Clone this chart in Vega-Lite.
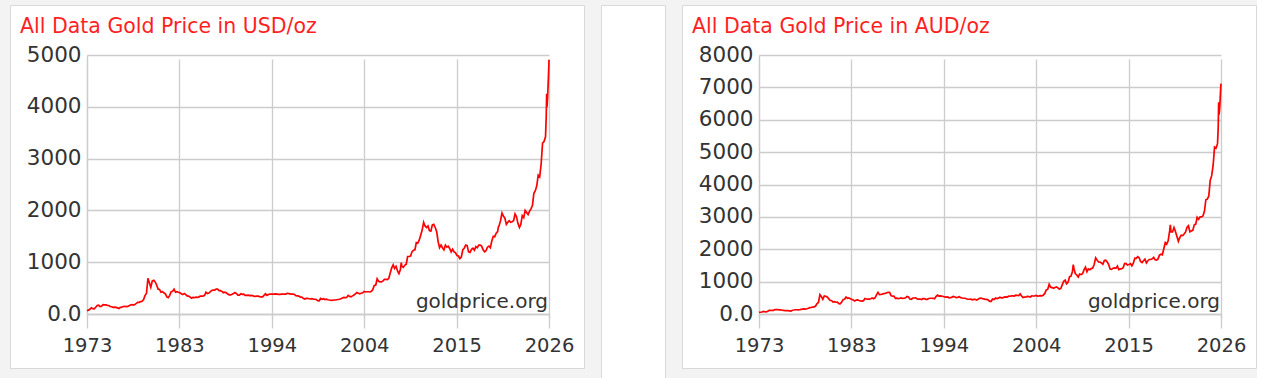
{
  "$schema": "https://vega.github.io/schema/vega-lite/v6.json",
  "background": "#f3f3f3",
  "padding": {"left": 9, "top": 4, "right": 0, "bottom": 0},
  "spacing": 15,
  "config": {
    "font": "DejaVu Sans",
    "view": {"fill": "white", "stroke": "#d9d9d9", "strokeWidth": 1},
    "axis": {
      "gridColor": "#cccccc", "gridWidth": 1.3, "domainColor": "#cccccc", "domainWidth": 1.3,
      "tickColor": "#cccccc", "tickWidth": 1.3, "labelFont": "DejaVu Sans", "labelFontSize": 20,
      "labelColor": "#333333", "title": null
    }
  },
  "datasets": {
    "gold": [
      {"year":1973,"usd":65,"aud":48},{"year":1973.17,"usd":75,"aud":54},{"year":1973.33,"usd":90,"aud":62},{"year":1973.5,"usd":120,"aud":81},{"year":1973.67,"usd":103,"aud":70},{"year":1973.83,"usd":98,"aud":66},
      {"year":1974,"usd":130,"aud":87},{"year":1974.17,"usd":165,"aud":111},{"year":1974.33,"usd":170,"aud":114},{"year":1974.5,"usd":145,"aud":109},{"year":1974.67,"usd":150,"aud":113},{"year":1974.83,"usd":180,"aud":137},
      {"year":1975,"usd":178,"aud":133},{"year":1975.17,"usd":178,"aud":134},{"year":1975.33,"usd":168,"aud":128},{"year":1975.5,"usd":165,"aud":129},{"year":1975.67,"usd":145,"aud":115},{"year":1975.83,"usd":140,"aud":111},
      {"year":1976,"usd":130,"aud":103},{"year":1976.17,"usd":132,"aud":106},{"year":1976.33,"usd":127,"aud":102},{"year":1976.5,"usd":118,"aud":97},{"year":1976.67,"usd":105,"aud":88},{"year":1976.83,"usd":128,"aud":117},
      {"year":1977,"usd":134,"aud":123},{"year":1977.17,"usd":145,"aud":131},{"year":1977.33,"usd":147,"aud":132},{"year":1977.5,"usd":142,"aud":127},{"year":1977.67,"usd":148,"aud":132},{"year":1977.83,"usd":160,"aud":142},
      {"year":1978,"usd":172,"aud":151},{"year":1978.17,"usd":182,"aud":158},{"year":1978.33,"usd":172,"aud":150},{"year":1978.5,"usd":185,"aud":161},{"year":1978.67,"usd":205,"aud":177},{"year":1978.83,"usd":225,"aud":196},
      {"year":1979,"usd":225,"aud":201},{"year":1979.17,"usd":240,"aud":214},{"year":1979.33,"usd":245,"aud":219},{"year":1979.5,"usd":278,"aud":246},{"year":1979.67,"usd":360,"aud":321},{"year":1979.83,"usd":395,"aud":356},
      {"year":1980,"usd":690,"aud":600},{"year":1980.17,"usd":600,"aud":536},{"year":1980.33,"usd":515,"aud":456},{"year":1980.5,"usd":640,"aud":557},{"year":1980.67,"usd":650,"aud":546},{"year":1980.83,"usd":620,"aud":525},
      {"year":1981,"usd":560,"aud":475},{"year":1981.17,"usd":480,"aud":417},{"year":1981.33,"usd":475,"aud":417},{"year":1981.5,"usd":420,"aud":368},{"year":1981.67,"usd":430,"aud":381},{"year":1981.83,"usd":410,"aud":363},
      {"year":1982,"usd":390,"aud":364},{"year":1982.17,"usd":330,"aud":320},{"year":1982.33,"usd":315,"aud":312},{"year":1982.5,"usd":360,"aud":367},{"year":1982.67,"usd":430,"aud":448},{"year":1982.83,"usd":440,"aud":454},
      {"year":1983,"usd":480,"aud":522},{"year":1983.17,"usd":420,"aud":483},{"year":1983.33,"usd":430,"aud":494},{"year":1983.5,"usd":420,"aud":472},{"year":1983.67,"usd":410,"aud":451},{"year":1983.83,"usd":390,"aud":429},
      {"year":1984,"usd":375,"aud":403},{"year":1984.17,"usd":395,"aud":429},{"year":1984.33,"usd":380,"aud":437},{"year":1984.5,"usd":350,"aud":417},{"year":1984.67,"usd":345,"aud":401},{"year":1984.83,"usd":330,"aud":398},
      {"year":1985,"usd":305,"aud":412},{"year":1985.17,"usd":320,"aud":478},{"year":1985.33,"usd":315,"aud":463},{"year":1985.5,"usd":325,"aud":458},{"year":1985.67,"usd":320,"aud":457},{"year":1985.83,"usd":325,"aud":471},
      {"year":1986,"usd":345,"aud":493},{"year":1986.17,"usd":345,"aud":473},{"year":1986.33,"usd":345,"aud":500},{"year":1986.5,"usd":360,"aud":590},{"year":1986.67,"usd":420,"aud":667},{"year":1986.83,"usd":395,"aud":598},
      {"year":1987,"usd":405,"aud":604},{"year":1987.17,"usd":430,"aud":614},{"year":1987.33,"usd":455,"aud":632},{"year":1987.5,"usd":460,"aud":639},{"year":1987.67,"usd":460,"aud":657},{"year":1987.83,"usd":480,"aud":667},
      {"year":1988,"usd":480,"aud":667},{"year":1988.17,"usd":450,"aud":570},{"year":1988.33,"usd":450,"aud":549},{"year":1988.5,"usd":435,"aud":551},{"year":1988.67,"usd":410,"aud":482},{"year":1988.83,"usd":420,"aud":488},
      {"year":1989,"usd":410,"aud":477},{"year":1989.17,"usd":385,"aud":487},{"year":1989.33,"usd":370,"aud":500},{"year":1989.5,"usd":370,"aud":481},{"year":1989.67,"usd":380,"aud":487},{"year":1989.83,"usd":395,"aud":500},
      {"year":1990,"usd":415,"aud":539},{"year":1990.17,"usd":395,"aud":527},{"year":1990.33,"usd":365,"aud":462},{"year":1990.5,"usd":365,"aud":456},{"year":1990.67,"usd":390,"aud":494},{"year":1990.83,"usd":380,"aud":494},
      {"year":1991,"usd":385,"aud":500},{"year":1991.17,"usd":360,"aud":468},{"year":1991.33,"usd":360,"aud":462},{"year":1991.5,"usd":365,"aud":462},{"year":1991.67,"usd":355,"aud":449},{"year":1991.83,"usd":360,"aud":474},
      {"year":1992,"usd":355,"aud":473},{"year":1992.17,"usd":345,"aud":454},{"year":1992.33,"usd":340,"aud":453},{"year":1992.5,"usd":345,"aud":479},{"year":1992.67,"usd":345,"aud":486},{"year":1992.83,"usd":335,"aud":486},
      {"year":1993,"usd":330,"aud":485},{"year":1993.17,"usd":330,"aud":471},{"year":1993.33,"usd":360,"aud":537},{"year":1993.5,"usd":390,"aud":582},{"year":1993.67,"usd":360,"aud":554},{"year":1993.83,"usd":375,"aud":560},
      {"year":1994,"usd":385,"aud":550},{"year":1994.17,"usd":385,"aud":542},{"year":1994.33,"usd":385,"aud":527},{"year":1994.5,"usd":385,"aud":520},{"year":1994.67,"usd":390,"aud":527},{"year":1994.83,"usd":385,"aud":500},
      {"year":1995,"usd":380,"aud":507},{"year":1995.17,"usd":380,"aud":521},{"year":1995.33,"usd":385,"aud":542},{"year":1995.5,"usd":385,"aud":527},{"year":1995.67,"usd":385,"aud":507},{"year":1995.83,"usd":385,"aud":513},
      {"year":1996,"usd":400,"aud":533},{"year":1996.17,"usd":395,"aud":506},{"year":1996.33,"usd":390,"aud":494},{"year":1996.5,"usd":385,"aud":487},{"year":1996.67,"usd":385,"aud":487},{"year":1996.83,"usd":375,"aud":469},
      {"year":1997,"usd":355,"aud":455},{"year":1997.17,"usd":350,"aud":455},{"year":1997.33,"usd":345,"aud":460},{"year":1997.5,"usd":325,"aud":439},{"year":1997.67,"usd":325,"aud":451},{"year":1997.83,"usd":305,"aud":455},
      {"year":1998,"usd":290,"aud":433},{"year":1998.17,"usd":300,"aud":455},{"year":1998.33,"usd":300,"aud":484},{"year":1998.5,"usd":295,"aud":492},{"year":1998.67,"usd":290,"aud":475},{"year":1998.83,"usd":295,"aud":468},
      {"year":1999,"usd":287,"aud":448},{"year":1999.17,"usd":285,"aud":452},{"year":1999.33,"usd":280,"aud":431},{"year":1999.5,"usd":258,"aud":391},{"year":1999.67,"usd":255,"aud":392},{"year":1999.83,"usd":300,"aud":462},
      {"year":2000,"usd":285,"aud":445},{"year":2000.17,"usd":295,"aud":492},{"year":2000.33,"usd":280,"aud":475},{"year":2000.5,"usd":285,"aud":491},{"year":2000.67,"usd":275,"aud":519},{"year":2000.83,"usd":270,"aud":500},
      {"year":2001,"usd":265,"aud":500},{"year":2001.17,"usd":262,"aud":524},{"year":2001.33,"usd":270,"aud":529},{"year":2001.5,"usd":270,"aud":519},{"year":2001.67,"usd":275,"aud":550},{"year":2001.83,"usd":280,"aud":549},
      {"year":2002,"usd":285,"aud":559},{"year":2002.17,"usd":295,"aud":557},{"year":2002.33,"usd":310,"aud":554},{"year":2002.5,"usd":320,"aud":582},{"year":2002.67,"usd":315,"aud":573},{"year":2002.83,"usd":320,"aud":571},
      {"year":2003,"usd":360,"aud":621},{"year":2003.17,"usd":340,"aud":557},{"year":2003.33,"usd":330,"aud":508},{"year":2003.5,"usd":350,"aud":522},{"year":2003.67,"usd":365,"aud":529},{"year":2003.83,"usd":390,"aud":542},
      {"year":2004,"usd":415,"aud":539},{"year":2004.17,"usd":400,"aud":526},{"year":2004.33,"usd":390,"aud":557},{"year":2004.5,"usd":400,"aud":556},{"year":2004.67,"usd":410,"aud":562},{"year":2004.83,"usd":435,"aud":572},
      {"year":2005,"usd":425,"aud":552},{"year":2005.17,"usd":430,"aud":558},{"year":2005.33,"usd":430,"aud":566},{"year":2005.5,"usd":425,"aud":559},{"year":2005.67,"usd":440,"aud":587},{"year":2005.83,"usd":470,"aud":635},
      {"year":2006,"usd":550,"aud":743},{"year":2006.17,"usd":560,"aud":767},{"year":2006.33,"usd":680,"aud":919},{"year":2006.5,"usd":630,"aud":829},{"year":2006.67,"usd":620,"aud":816},{"year":2006.83,"usd":620,"aud":795},
      {"year":2007,"usd":640,"aud":821},{"year":2007.17,"usd":670,"aud":838},{"year":2007.33,"usd":670,"aud":807},{"year":2007.5,"usd":665,"aud":773},{"year":2007.67,"usd":690,"aud":784},{"year":2007.83,"usd":790,"aud":898},
      {"year":2008,"usd":890,"aud":1011},{"year":2008.17,"usd":950,"aud":1044},{"year":2008.33,"usd":880,"aud":936},{"year":2008.5,"usd":920,"aud":979},{"year":2008.67,"usd":830,"aud":1153},{"year":2008.83,"usd":780,"aud":1164},
      {"year":2009,"usd":860,"aud":1303},{"year":2009.1,"usd":990,"aud":1523},{"year":2009.17,"usd":920,"aud":1415},{"year":2009.33,"usd":900,"aud":1250},{"year":2009.5,"usd":940,"aud":1205},{"year":2009.67,"usd":960,"aud":1143},{"year":2009.83,"usd":1110,"aud":1233},
      {"year":2010,"usd":1110,"aud":1220},{"year":2010.17,"usd":1120,"aud":1244},{"year":2010.33,"usd":1200,"aud":1364},{"year":2010.5,"usd":1230,"aud":1447},{"year":2010.67,"usd":1240,"aud":1305},{"year":2010.83,"usd":1380,"aud":1394},
      {"year":2011,"usd":1370,"aud":1370},{"year":2011.17,"usd":1430,"aud":1402},{"year":2011.33,"usd":1520,"aud":1421},{"year":2011.5,"usd":1620,"aud":1528},{"year":2011.67,"usd":1770,"aud":1735},{"year":2011.83,"usd":1700,"aud":1667},
      {"year":2012,"usd":1670,"aud":1606},{"year":2012.17,"usd":1700,"aud":1604},{"year":2012.33,"usd":1610,"aud":1578},{"year":2012.5,"usd":1600,"aud":1538},{"year":2012.67,"usd":1720,"aud":1654},{"year":2012.83,"usd":1730,"aud":1663},
      {"year":2013,"usd":1670,"aud":1606},{"year":2013.17,"usd":1590,"aud":1529},{"year":2013.33,"usd":1400,"aud":1386},{"year":2013.5,"usd":1280,"aud":1376},{"year":2013.67,"usd":1330,"aud":1415},{"year":2013.83,"usd":1280,"aud":1422},
      {"year":2014,"usd":1240,"aud":1409},{"year":2014.17,"usd":1330,"aud":1478},{"year":2014.33,"usd":1290,"aud":1372},{"year":2014.5,"usd":1310,"aud":1394},{"year":2014.67,"usd":1260,"aud":1400},{"year":2014.83,"usd":1200,"aud":1429},
      {"year":2015,"usd":1250,"aud":1563},{"year":2015.17,"usd":1200,"aud":1558},{"year":2015.33,"usd":1180,"aud":1513},{"year":2015.5,"usd":1130,"aud":1527},{"year":2015.67,"usd":1120,"aud":1556},{"year":2015.83,"usd":1070,"aud":1486},
      {"year":2016,"usd":1100,"aud":1571},{"year":2016.17,"usd":1240,"aud":1722},{"year":2016.33,"usd":1270,"aud":1716},{"year":2016.5,"usd":1330,"aud":1773},{"year":2016.67,"usd":1320,"aud":1737},{"year":2016.83,"usd":1200,"aud":1622},
      {"year":2017,"usd":1190,"aud":1587},{"year":2017.17,"usd":1250,"aud":1645},{"year":2017.33,"usd":1270,"aud":1693},{"year":2017.5,"usd":1230,"aud":1577},{"year":2017.67,"usd":1300,"aud":1646},{"year":2017.83,"usd":1280,"aud":1684},
      {"year":2018,"usd":1330,"aud":1684},{"year":2018.17,"usd":1330,"aud":1705},{"year":2018.33,"usd":1310,"aud":1747},{"year":2018.5,"usd":1240,"aud":1676},{"year":2018.67,"usd":1200,"aud":1667},{"year":2018.83,"usd":1220,"aud":1694},
      {"year":2019,"usd":1290,"aud":1817},{"year":2019.17,"usd":1310,"aud":1845},{"year":2019.33,"usd":1280,"aud":1829},{"year":2019.5,"usd":1410,"aud":2014},{"year":2019.67,"usd":1500,"aud":2206},{"year":2019.83,"usd":1490,"aud":2159},
      {"year":2020,"usd":1560,"aud":2261},{"year":2020.17,"usd":1590,"aud":2565},{"year":2020.25,"usd":1680,"aud":2754},{"year":2020.33,"usd":1700,"aud":2537},{"year":2020.5,"usd":1800,"aud":2535},{"year":2020.67,"usd":1950,"aud":2671},{"year":2020.83,"usd":1890,"aud":2554},
      {"year":2021,"usd":1850,"aud":2403},{"year":2021.17,"usd":1730,"aud":2247},{"year":2021.33,"usd":1770,"aud":2360},{"year":2021.5,"usd":1800,"aud":2432},{"year":2021.67,"usd":1770,"aud":2425},{"year":2021.83,"usd":1780,"aud":2472},
      {"year":2022,"usd":1800,"aud":2535},{"year":2022.17,"usd":1930,"aud":2681},{"year":2022.33,"usd":1880,"aud":2725},{"year":2022.5,"usd":1750,"aud":2536},{"year":2022.67,"usd":1670,"aud":2569},{"year":2022.83,"usd":1730,"aud":2582},
      {"year":2023,"usd":1900,"aud":2754},{"year":2023.17,"usd":1860,"aud":2776},{"year":2023.33,"usd":2000,"aud":2985},{"year":2023.5,"usd":1960,"aud":2925},{"year":2023.67,"usd":1920,"aud":3000},{"year":2023.83,"usd":1980,"aud":3000},
      {"year":2024,"usd":2030,"aud":3030},{"year":2024.17,"usd":2100,"aud":3182},{"year":2024.33,"usd":2330,"aud":3530},{"year":2024.5,"usd":2380,"aud":3552},{"year":2024.67,"usd":2480,"aud":3647},{"year":2024.83,"usd":2680,"aud":4123},
      {"year":2025,"usd":2650,"aud":4274},{"year":2025.17,"usd":2900,"aud":4603},{"year":2025.33,"usd":3300,"aud":5156},{"year":2025.5,"usd":3330,"aud":5123},{"year":2025.67,"usd":3420,"aud":5262},{"year":2025.75,"usd":3800,"aud":5758},
      {"year":2025.8,"usd":4250,"aud":6538},{"year":2025.85,"usd":4000,"aud":6154},{"year":2025.9,"usd":4150,"aud":6288},{"year":2025.95,"usd":4350,"aud":6493},{"year":2026,"usd":4550,"aud":6791},{"year":2026.04,"usd":4750,"aud":6985},{"year":2026.07,"usd":4910,"aud":7116}
    ]
  },
  "hconcat": [
    {
      "width": 574, "height": 363,
      "layer": [
        {
          "data": {"name": "gold"},
          "mark": {"type": "line", "color": "#ff0000", "strokeWidth": 1.7},
          "encoding": {
            "x": {"field": "year", "type": "quantitative",
              "scale": {"domain": [1973, 2026.07], "range": [77, 539], "zero": false, "nice": false},
              "axis": {"values": [1973, 1983.614, 1994.228, 2004.842, 2015.456, 2026.07], "labelExpr": "floor(datum.value)", "offset": -54, "grid": true, "ticks": true, "tickSize": 14, "labelPadding": 8, "labelFontSize": 19.5, "labelFlush": false, "labelOverlap": false}},
            "y": {"field": "usd", "type": "quantitative",
              "scale": {"domain": [0, 5000], "range": [309, 50], "nice": false},
              "axis": {"values": [0, 1000, 2000, 3000, 4000, 5000], "format": "d", "labelExpr": "datum.value == 0 ? '0.0' : datum.label", "offset": -77, "grid": true, "ticks": false, "tickSize": 0, "labelPadding": 6, "labelFontSize": 21.5}}
          }
        },
        {
          "data": {"values": [{"label": "goldprice.org"}]},
          "mark": {"type": "text", "align": "right", "baseline": "alphabetic", "dx": -1, "dy": -6, "fontSize": 20, "font": "DejaVu Sans", "color": "#333333"},
          "encoding": {
            "x": {"datum": 2026.07, "type": "quantitative"},
            "y": {"datum": 0, "type": "quantitative"},
            "text": {"field": "label"}
          }
        },
        {
          "data": {"values": [{"label": "All Data Gold Price in USD/oz"}]},
          "mark": {"type": "text", "align": "left", "baseline": "alphabetic", "dx": -67, "dy": -22, "fontSize": 20.5, "font": "DejaVu Sans", "color": "#ff1f1f"},
          "encoding": {
            "x": {"datum": 1973, "type": "quantitative"},
            "y": {"datum": 5000, "type": "quantitative"},
            "text": {"field": "label"}
          }
        }
      ]
    },
    {
      "width": 64, "height": 374,
      "data": {"values": [{"label": ""}]},
      "mark": {"type": "text"},
      "encoding": {
        "x": {"datum": 0.5, "type": "quantitative", "scale": {"domain": [0, 1]}, "axis": null},
        "y": {"datum": 0.5, "type": "quantitative", "scale": {"domain": [0, 1]}, "axis": null},
        "text": {"field": "label"}
      }
    },
    {
      "width": 574, "height": 363,
      "layer": [
        {
          "data": {"name": "gold"},
          "mark": {"type": "line", "color": "#ff0000", "strokeWidth": 1.7},
          "encoding": {
            "x": {"field": "year", "type": "quantitative",
              "scale": {"domain": [1973, 2026.07], "range": [77, 539], "zero": false, "nice": false},
              "axis": {"values": [1973, 1983.614, 1994.228, 2004.842, 2015.456, 2026.07], "labelExpr": "floor(datum.value)", "offset": -54, "grid": true, "ticks": true, "tickSize": 14, "labelPadding": 8, "labelFontSize": 19.5, "labelFlush": false, "labelOverlap": false}},
            "y": {"field": "aud", "type": "quantitative",
              "scale": {"domain": [0, 8000], "range": [309, 50], "nice": false},
              "axis": {"values": [0, 1000, 2000, 3000, 4000, 5000, 6000, 7000, 8000], "format": "d", "labelExpr": "datum.value == 0 ? '0.0' : datum.label", "offset": -77, "grid": true, "ticks": false, "tickSize": 0, "labelPadding": 6, "labelFontSize": 21.5}}
          }
        },
        {
          "data": {"values": [{"label": "goldprice.org"}]},
          "mark": {"type": "text", "align": "right", "baseline": "alphabetic", "dx": -1, "dy": -6, "fontSize": 20, "font": "DejaVu Sans", "color": "#333333"},
          "encoding": {
            "x": {"datum": 2026.07, "type": "quantitative"},
            "y": {"datum": 0, "type": "quantitative"},
            "text": {"field": "label"}
          }
        },
        {
          "data": {"values": [{"label": "All Data Gold Price in AUD/oz"}]},
          "mark": {"type": "text", "align": "left", "baseline": "alphabetic", "dx": -67, "dy": -22, "fontSize": 20.5, "font": "DejaVu Sans", "color": "#ff1f1f"},
          "encoding": {
            "x": {"datum": 1973, "type": "quantitative"},
            "y": {"datum": 8000, "type": "quantitative"},
            "text": {"field": "label"}
          }
        }
      ]
    }
  ]
}
